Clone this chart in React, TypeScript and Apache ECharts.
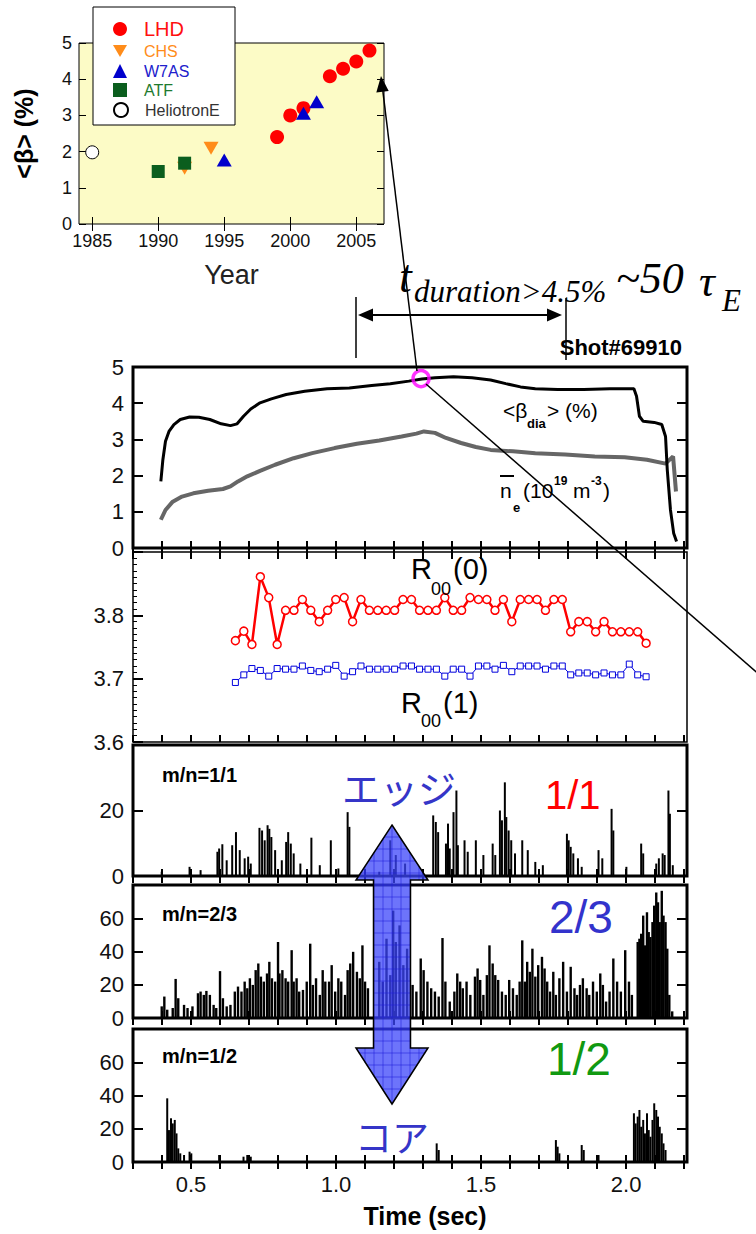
import React, { useEffect, useRef } from "react";
import * as echarts from "echarts";

// ---------------- data ----------------
// inset: <beta> record per device (year, %)
const LHD = [[1999, 2.4], [2000, 3.0], [2001, 3.2], [2003, 4.08], [2004, 4.29], [2005, 4.49], [2006, 4.79]];
const CHS = [[1992, 1.54], [1994, 2.09]];
const W7AS = [[1995, 1.77], [2001, 3.06], [2002, 3.38]];
const ATF = [[1990, 1.45], [1992, 1.68]];
const HELIOTRON_E = [[1985, 1.98]];
const YEAR_TICKS = [1985, 1990, 1995, 2000, 2005];

// panel 1: <beta_dia> (%) and line density
const BETA_T = [0.396, 0.403, 0.412, 0.424, 0.441, 0.463, 0.495, 0.527, 0.565, 0.604, 0.636, 0.659, 0.681, 0.706, 0.738, 0.777, 0.828, 0.892, 0.969, 1.046, 1.123, 1.187, 1.251, 1.296, 1.341, 1.405, 1.469, 1.533, 1.585, 1.636, 1.687, 1.764, 1.854, 1.944, 2.027, 2.036, 2.046, 2.059, 2.097, 2.123, 2.136, 2.142, 2.153, 2.164, 2.174];
const BETA_V = [1.84, 2.44, 2.95, 3.22, 3.41, 3.55, 3.62, 3.61, 3.55, 3.43, 3.38, 3.43, 3.64, 3.84, 4.01, 4.12, 4.24, 4.33, 4.40, 4.42, 4.49, 4.54, 4.61, 4.67, 4.70, 4.73, 4.70, 4.64, 4.54, 4.45, 4.40, 4.38, 4.38, 4.40, 4.40, 4.19, 3.64, 3.50, 3.47, 3.41, 3.08, 2.16, 1.05, 0.41, 0.18];
const NE_T = [0.396, 0.412, 0.437, 0.469, 0.508, 0.559, 0.610, 0.636, 0.662, 0.694, 0.738, 0.790, 0.854, 0.918, 0.995, 1.072, 1.149, 1.226, 1.277, 1.303, 1.341, 1.379, 1.431, 1.482, 1.533, 1.610, 1.687, 1.790, 1.892, 1.995, 2.072, 2.136, 2.162, 2.172];
const NE_V = [0.78, 1.05, 1.28, 1.42, 1.51, 1.58, 1.63, 1.70, 1.84, 1.98, 2.13, 2.30, 2.48, 2.62, 2.76, 2.88, 2.97, 3.08, 3.16, 3.22, 3.18, 3.04, 2.90, 2.79, 2.71, 2.67, 2.62, 2.58, 2.53, 2.51, 2.44, 2.33, 2.53, 1.56];
const MARK_POINT = [[1.293, 4.68]];

// panel 2: R00(0), R00(1)
const R00_T = [0.653, 0.682, 0.710, 0.739, 0.768, 0.797, 0.826, 0.855, 0.884, 0.913, 0.942, 0.971, 0.999, 1.028, 1.057, 1.086, 1.115, 1.144, 1.173, 1.202, 1.231, 1.260, 1.288, 1.317, 1.346, 1.375, 1.404, 1.433, 1.462, 1.491, 1.520, 1.548, 1.577, 1.606, 1.635, 1.664, 1.693, 1.722, 1.751, 1.780, 1.809, 1.837, 1.866, 1.895, 1.924, 1.953, 1.982, 2.011, 2.040, 2.069];
const R00_0 = [3.760, 3.775, 3.754, 3.861, 3.828, 3.754, 3.808, 3.808, 3.825, 3.808, 3.790, 3.808, 3.825, 3.828, 3.790, 3.825, 3.808, 3.808, 3.808, 3.808, 3.825, 3.825, 3.808, 3.808, 3.808, 3.828, 3.808, 3.808, 3.828, 3.825, 3.825, 3.808, 3.825, 3.790, 3.825, 3.825, 3.825, 3.808, 3.825, 3.825, 3.774, 3.790, 3.790, 3.774, 3.790, 3.774, 3.774, 3.774, 3.774, 3.756];
const R00_1 = [3.694, 3.706, 3.716, 3.713, 3.704, 3.716, 3.715, 3.715, 3.720, 3.713, 3.711, 3.715, 3.721, 3.704, 3.711, 3.720, 3.715, 3.715, 3.715, 3.715, 3.720, 3.720, 3.715, 3.715, 3.715, 3.704, 3.715, 3.715, 3.704, 3.720, 3.720, 3.715, 3.721, 3.711, 3.720, 3.720, 3.720, 3.715, 3.720, 3.720, 3.706, 3.709, 3.709, 3.706, 3.709, 3.706, 3.706, 3.723, 3.706, 3.703];

// panels 3-5: mode amplitudes (time, amplitude)
const MODE_11 = [[0.399, 1.3], [0.495, 2.8], [0.533, 1.8], [0.591, 7.4], [0.597, 8.4], [0.608, 9.7], [0.623, 4.8], [0.642, 9.4], [0.655, 13.4], [0.668, 7.9], [0.685, 5.4], [0.697, 5.9], [0.706, 3.8], [0.736, 14.7], [0.745, 13.9], [0.754, 10.9], [0.764, 15.5], [0.770, 14.4], [0.777, 11.9], [0.790, 7.9], [0.813, 4.8], [0.828, 10.4], [0.835, 13.4], [0.844, 9.9], [0.854, 6.9], [0.877, 3.8], [0.915, 11.7], [0.944, 3.3], [0.982, 10.9], [1.008, 2.3], [1.040, 19.5], [1.046, 15.0], [1.149, 1.3], [1.187, 10.9], [1.206, 6.4], [1.238, 3.8], [1.335, 18.5], [1.344, 16.5], [1.352, 13.4], [1.379, 9.9], [1.386, 16.0], [1.392, 8.4], [1.405, 19.5], [1.415, 26.1], [1.420, 9.4], [1.443, 10.9], [1.454, 7.4], [1.482, 10.9], [1.508, 6.4], [1.540, 9.9], [1.549, 6.4], [1.565, 20.0], [1.572, 17.0], [1.582, 28.6], [1.587, 18.0], [1.595, 13.9], [1.604, 10.9], [1.617, 6.9], [1.642, 10.9], [1.661, 7.9], [1.687, 4.3], [1.713, 3.3], [1.796, 12.9], [1.802, 10.9], [1.809, 8.9], [1.818, 6.9], [1.834, 5.4], [1.847, 2.8], [1.905, 7.9], [1.918, 5.4], [1.950, 20.5], [1.956, 13.9], [2.001, 2.8], [2.052, 9.9], [2.059, 6.9], [2.104, 3.8], [2.113, 5.4], [2.126, 6.9], [2.133, 6.4], [2.146, 26.1], [2.151, 19.0], [2.161, 3.3]];
const MODE_23 = [[0.399, 7.0], [0.408, 12.9], [0.418, 5.0], [0.437, 6.0], [0.447, 23.5], [0.456, 11.9], [0.476, 7.9], [0.488, 6.0], [0.505, 7.0], [0.524, 14.9], [0.533, 15.9], [0.544, 13.9], [0.553, 16.3], [0.565, 13.9], [0.578, 7.9], [0.587, 6.0], [0.600, 28.2], [0.610, 11.9], [0.623, 7.0], [0.636, 7.9], [0.651, 15.9], [0.662, 18.9], [0.674, 15.9], [0.685, 21.9], [0.694, 17.9], [0.703, 23.9], [0.713, 19.9], [0.723, 28.8], [0.732, 32.8], [0.741, 24.9], [0.751, 21.9], [0.762, 26.8], [0.770, 33.8], [0.779, 23.9], [0.790, 21.9], [0.800, 45.7], [0.805, 26.8], [0.815, 28.8], [0.826, 23.9], [0.835, 21.9], [0.847, 40.8], [0.854, 21.9], [0.864, 23.9], [0.873, 15.9], [0.886, 16.9], [0.899, 21.9], [0.911, 44.7], [0.920, 19.9], [0.931, 23.9], [0.944, 13.9], [0.954, 28.8], [0.963, 21.9], [0.976, 21.9], [0.985, 31.8], [0.997, 15.9], [1.008, 23.9], [1.018, 21.9], [1.031, 13.9], [1.040, 28.8], [1.049, 32.8], [1.059, 39.8], [1.072, 27.8], [1.082, 23.9], [1.091, 43.7], [1.100, 21.9], [1.110, 17.9], [1.149, 33.8], [1.161, 21.9], [1.174, 47.7], [1.187, 25.8], [1.197, 64.6], [1.206, 45.7], [1.219, 55.7], [1.232, 31.8], [1.245, 41.7], [1.264, 19.9], [1.277, 15.9], [1.292, 35.8], [1.302, 28.8], [1.315, 21.9], [1.328, 17.9], [1.341, 15.9], [1.354, 12.9], [1.367, 48.1], [1.377, 21.9], [1.392, 9.9], [1.408, 15.9], [1.418, 26.8], [1.428, 21.9], [1.437, 17.9], [1.450, 21.9], [1.463, 13.9], [1.479, 24.9], [1.488, 29.8], [1.497, 22.9], [1.508, 13.9], [1.520, 25.8], [1.529, 43.7], [1.540, 32.8], [1.549, 25.8], [1.559, 22.9], [1.572, 15.9], [1.585, 13.9], [1.597, 22.9], [1.610, 17.9], [1.623, 13.9], [1.633, 21.9], [1.642, 46.7], [1.651, 21.9], [1.659, 33.8], [1.668, 27.8], [1.677, 41.7], [1.687, 24.9], [1.697, 31.8], [1.710, 36.8], [1.719, 29.8], [1.728, 21.9], [1.738, 15.9], [1.749, 27.8], [1.758, 13.9], [1.770, 23.9], [1.783, 33.8], [1.796, 15.9], [1.809, 30.8], [1.822, 17.9], [1.831, 13.9], [1.841, 19.9], [1.851, 23.9], [1.864, 17.9], [1.873, 13.9], [1.886, 21.9], [1.899, 15.9], [1.911, 26.8], [1.920, 19.9], [1.931, 9.9], [1.943, 15.9], [1.956, 35.8], [1.969, 21.9], [1.982, 15.9], [1.997, 40.8], [2.010, 21.9], [2.020, 13.9], [2.040, 45.7], [2.046, 47.7], [2.052, 50.7], [2.059, 61.6], [2.065, 43.7], [2.072, 63.6], [2.078, 51.7], [2.084, 48.7], [2.091, 57.7], [2.097, 67.6], [2.104, 75.5], [2.110, 69.6], [2.116, 57.7], [2.123, 76.5], [2.129, 61.6], [2.136, 57.7], [2.142, 41.7], [2.149, 13.9], [2.159, 4.0]];
const MODE_12 = [[0.418, 38.3], [0.424, 19.2], [0.431, 26.3], [0.437, 23.2], [0.444, 25.3], [0.450, 17.2], [0.456, 8.2], [0.463, 5.2], [0.476, 4.2], [0.495, 6.2], [0.501, 5.2], [0.597, 4.2], [0.681, 3.2], [0.694, 4.2], [0.706, 3.2], [1.347, 11.2], [1.354, 7.2], [1.758, 13.2], [1.764, 9.2], [1.770, 5.2], [1.847, 10.2], [1.854, 7.2], [1.905, 4.2], [2.027, 29.3], [2.033, 23.2], [2.040, 27.3], [2.046, 31.3], [2.052, 21.2], [2.059, 25.3], [2.065, 17.2], [2.072, 29.3], [2.078, 19.2], [2.084, 15.2], [2.091, 25.3], [2.097, 35.3], [2.104, 31.3], [2.110, 27.3], [2.116, 21.2], [2.123, 17.2], [2.129, 11.2], [2.136, 7.2]];

const TIME_TICKS = [0.3, 0.4, 0.5, 0.6, 0.7, 0.8, 0.9, 1.0, 1.1, 1.2, 1.3, 1.4, 1.5, 1.6, 1.7, 1.8, 1.9, 2.0, 2.1, 2.2];
const TIME_LABELS = [0.5, 1.0, 1.5, 2.0];

// ---------------- layout / style ----------------
const SANS = '"Liberation Sans", Arial, Helvetica, sans-serif';
const SERIF = '"Liberation Serif", "Times New Roman", serif';
const JP = '"Noto Sans CJK JP", sans-serif';

const GRIDS = [
  { left: 79, top: 43, width: 305, height: 181 },
  { left: 133, top: 367, width: 554, height: 181 },
  { left: 133, top: 552, width: 554, height: 190 },
  { left: 133, top: 745, width: 554, height: 131 },
  { left: 133, top: 885, width: 554, height: 133 },
  { left: 133, top: 1029, width: 554, height: 133 },
];

const PANEL_Y = [
  { min: 0, max: 5, interval: 1, hideAbove: 99, fixed: 0 },
  { min: 3.6, max: 3.9, interval: 0.1, hideAbove: 3.85, fixed: 1 },
  { min: 0, max: 40, interval: 20, hideAbove: 30, fixed: 0 },
  { min: 0, max: 80, interval: 20, hideAbove: 70, fixed: 0 },
  { min: 0, max: 80, interval: 20, hideAbove: 70, fixed: 0 },
];

const zip = (a: number[], b: number[]) => a.map((v, i) => [v, b[i]]);

function buildOption() {
  const xAxis: any[] = [];
  const yAxis: any[] = [];

  // inset axes
  xAxis.push({
    type: "value", gridIndex: 0, min: 1984, max: 2007.1, position: "bottom",
    axisLine: { show: false }, splitLine: { show: false },
    axisTick: { inside: true, length: 7, customValues: YEAR_TICKS, lineStyle: { color: "#000", width: 1 } },
    axisLabel: { customValues: YEAR_TICKS, fontSize: 18, color: "#111", fontFamily: SANS, margin: 8, formatter: (v: number) => String(Math.round(v)) },
    name: "Year", nameLocation: "middle", nameGap: 37,
    nameTextStyle: { fontSize: 27, color: "#222", fontFamily: SANS },
  });
  xAxis.push({
    type: "value", gridIndex: 0, min: 1984, max: 2007.1, position: "top",
    axisLine: { show: false }, splitLine: { show: false },
    axisTick: { inside: true, length: 7, customValues: YEAR_TICKS, lineStyle: { color: "#000", width: 1 } },
    axisLabel: { show: false },
  });
  yAxis.push({
    type: "value", gridIndex: 0, min: 0, max: 5, interval: 1, position: "left",
    axisLine: { show: false }, splitLine: { show: false },
    axisTick: { inside: true, length: 7, lineStyle: { color: "#000", width: 1 } },
    axisLabel: { fontSize: 18, color: "#111", fontFamily: SANS, margin: 7 },
    name: "<β> (%)", nameLocation: "middle", nameGap: 43, nameRotate: 90,
    nameTextStyle: { fontSize: 25, fontWeight: "bold", color: "#000", fontFamily: SANS },
  });
  yAxis.push({
    type: "value", gridIndex: 0, min: 0, max: 5, interval: 1, position: "right",
    axisLine: { show: false }, splitLine: { show: false },
    axisTick: { inside: true, length: 7, lineStyle: { color: "#000", width: 1 } },
    axisLabel: { show: false },
  });

  // panels
  for (let p = 0; p < 5; p++) {
    const g = p + 1;
    const last = p === 4;
    xAxis.push({
      type: "value", gridIndex: g, min: 0.3, max: 2.21, position: "bottom",
      axisLine: { show: false }, splitLine: { show: false },
      axisTick: { inside: true, length: 7, customValues: TIME_TICKS, lineStyle: { color: "#000", width: 2 } },
      axisLabel: last
        ? { customValues: TIME_LABELS, fontSize: 22, color: "#111", fontFamily: SANS, margin: 11, formatter: (v: number) => v.toFixed(1) }
        : { show: false },
    });
    xAxis.push({
      type: "value", gridIndex: g, min: 0.3, max: 2.21, position: "top",
      axisLine: { show: false }, splitLine: { show: false },
      axisTick: { inside: true, length: 7, customValues: TIME_TICKS, lineStyle: { color: "#000", width: 2 } },
      axisLabel: { show: false },
    });
    const py = PANEL_Y[p];
    yAxis.push({
      type: "value", gridIndex: g, min: py.min, max: py.max, interval: py.interval, position: "left",
      axisLine: { show: false }, splitLine: { show: false },
      axisTick: { inside: true, length: 10, lineStyle: { color: "#000", width: 2 } },
      minorTick: p === 1 ? { show: true, splitNumber: 10, length: 4, lineStyle: { color: "#000", width: 1 } } : { show: false },
      axisLabel: {
        fontSize: 22, color: "#111", fontFamily: SANS, margin: 9,
        formatter: (v: number) => (v > py.hideAbove ? "" : v.toFixed(py.fixed)),
      },
    });
    yAxis.push({
      type: "value", gridIndex: g, min: py.min, max: py.max, interval: py.interval, position: "right",
      axisLine: { show: false }, splitLine: { show: false },
      axisTick: { show: p !== 1, inside: true, length: 10, lineStyle: { color: "#000", width: 2 } },
      axisLabel: { show: false },
    });
  }

  const grid = GRIDS.map((r, i) => ({
    ...r,
    show: true,
    borderColor: "#000",
    borderWidth: i === 0 ? 1 : i === 2 ? 1.5 : 3,
    backgroundColor: i === 0 ? "#FCFBC6" : "transparent",
  }));

  const downTri = "path://M0,0L10,0L5,8.66Z";
  const series: any[] = [
    { name: "LHD", type: "scatter", xAxisIndex: 0, yAxisIndex: 0, data: LHD, symbol: "circle", symbolSize: 14, itemStyle: { color: "#FF0000", opacity: 1 } },
    { name: "CHS", type: "scatter", xAxisIndex: 0, yAxisIndex: 0, data: CHS, symbol: downTri, symbolSize: [15, 13], itemStyle: { color: "#FF8C1A", opacity: 1 } },
    { name: "W7AS", type: "scatter", xAxisIndex: 0, yAxisIndex: 0, data: W7AS, symbol: "triangle", symbolSize: [15, 13], itemStyle: { color: "#0000CC", opacity: 1 } },
    { name: "ATF", type: "scatter", xAxisIndex: 0, yAxisIndex: 0, data: ATF, symbol: "rect", symbolSize: 13, itemStyle: { color: "#0B5E1E", opacity: 1 } },
    { name: "HeliotronE", type: "scatter", xAxisIndex: 0, yAxisIndex: 0, data: HELIOTRON_E, symbol: "circle", symbolSize: 13, itemStyle: { color: "#fff", borderColor: "#000", borderWidth: 1, opacity: 1 } },

    { type: "line", xAxisIndex: 2, yAxisIndex: 2, data: zip(NE_T, NE_V), showSymbol: false, lineStyle: { color: "#666", width: 4 } },
    { type: "line", xAxisIndex: 2, yAxisIndex: 2, data: zip(BETA_T, BETA_V), showSymbol: false, lineStyle: { color: "#000", width: 3 } },
    { type: "scatter", xAxisIndex: 2, yAxisIndex: 2, data: MARK_POINT, symbol: "circle", symbolSize: 16, z: 10, itemStyle: { color: "rgba(0,0,0,0)", borderColor: "#FF00FF", borderWidth: 3.5 } },

    { type: "line", xAxisIndex: 4, yAxisIndex: 4, data: zip(R00_T, R00_1), symbol: "rect", symbolSize: 6, showSymbol: true, lineStyle: { color: "#0000DD", width: 1 }, itemStyle: { color: "#fff", borderColor: "#0000DD", borderWidth: 1 } },
    { type: "line", xAxisIndex: 4, yAxisIndex: 4, data: zip(R00_T, R00_0), symbol: "circle", symbolSize: 8, showSymbol: true, lineStyle: { color: "#FF0000", width: 2.5 }, itemStyle: { color: "#fff", borderColor: "#FF0000", borderWidth: 1.5 } },

    { type: "bar", xAxisIndex: 6, yAxisIndex: 6, data: MODE_11, barWidth: 2, itemStyle: { color: "#000" } },
    { type: "bar", xAxisIndex: 8, yAxisIndex: 8, data: MODE_23, barWidth: 2.4, itemStyle: { color: "#000" } },
    { type: "bar", xAxisIndex: 10, yAxisIndex: 10, data: MODE_12, barWidth: 2, itemStyle: { color: "#000" } },
  ];

  const legendItems = [
    { name: "LHD", color: "#FF1010", fs: 20, top: 19 },
    { name: "CHS", color: "#FF8C1A", fs: 16, top: 43 },
    { name: "W7AS", color: "#2020CC", fs: 16, top: 63 },
    { name: "ATF", color: "#1E7A2E", fs: 16, top: 82 },
    { name: "HeliotronE", color: "#333", fs: 16, top: 102 },
  ];
  const legend = legendItems.map((l) => ({
    data: [{ name: l.name }],
    left: 113, top: l.top, orient: "vertical", padding: 0,
    itemWidth: 14, itemHeight: 14, selectedMode: false, z: 6,
    textStyle: { color: l.color, fontSize: l.fs, fontFamily: SANS, padding: [0, 0, 0, 12] },
  }));

  // -------- graphic annotations --------
  const T = (x: number, y: number, text: string, o: any = {}) => ({
    type: "text", x, y, z: 60,
    style: {
      text, fill: o.fill || "#000", fontSize: o.fs || 20, fontFamily: o.ff || SANS,
      fontWeight: o.fw || "normal", fontStyle: o.fst || "normal",
      align: o.align || "left", verticalAlign: "middle",
    },
  });

  // double arrow ("edge" <-> "core")
  const cx = 392, headTop = 825, headTopBase = 880, headBotBase = 1048, headBot = 1104, hw = 36, sw = 18.5;
  const arrowPts = [
    [cx, headTop], [cx + hw, headTopBase], [cx + sw, headTopBase], [cx + sw, headBotBase], [cx + hw, headBotBase],
    [cx, headBot], [cx - hw, headBotBase], [cx - sw, headBotBase], [cx - sw, headTopBase], [cx - hw, headTopBase],
  ];
  const slope = (headTopBase - headTop) / hw;
  const halfAt = (y: number) => {
    if (y < headTopBase) return (y - headTop) / slope;
    if (y > headBotBase) return (headBot - y) / slope;
    return sw;
  };
  const hatchStyle = { stroke: "rgba(30,30,220,0.55)", lineWidth: 1 };
  const hatch: any[] = [];
  for (let d = -27; d <= 27; d += 9) {
    const ad = Math.abs(d);
    const y1 = headTop + ad * slope;
    const y2 = headBot - ad * slope;
    if (ad > sw) {
      hatch.push({ type: "line", z: 56, shape: { x1: cx + d, y1, x2: cx + d, y2: headTopBase }, style: hatchStyle });
      hatch.push({ type: "line", z: 56, shape: { x1: cx + d, y1: headBotBase, x2: cx + d, y2 }, style: hatchStyle });
    } else {
      hatch.push({ type: "line", z: 56, shape: { x1: cx + d, y1, x2: cx + d, y2 }, style: hatchStyle });
    }
  }
  for (let y = headTop + 12; y < headBot - 4; y += 12) {
    const h = halfAt(y);
    hatch.push({ type: "line", z: 56, shape: { x1: cx - h, y1: y, x2: cx + h, y2: y }, style: hatchStyle });
  }

  const graphic: any[] = [
    { type: "rect", z: 3, shape: { x: 93, y: 7, width: 142, height: 118 }, style: { fill: "#fff", stroke: "#000", lineWidth: 1 } },

    // connection lines
    { type: "line", z: 60, shape: { x1: 417, y1: 371, x2: 382.6, y2: 89 }, style: { stroke: "#000", lineWidth: 1.5 } },
    { type: "polygon", z: 60, shape: { points: [[381, 76], [388.7, 91], [376.3, 92.5]] }, style: { fill: "#000" } },
    { type: "line", z: 60, shape: { x1: 426, y1: 384, x2: 770, y2: 684 }, style: { stroke: "#000", lineWidth: 1.5 } },

    // duration marker
    { type: "line", z: 60, shape: { x1: 370, y1: 315, x2: 550, y2: 315 }, style: { stroke: "#000", lineWidth: 2 } },
    { type: "polygon", z: 60, shape: { points: [[358, 315], [373, 308.5], [373, 321.5]] }, style: { fill: "#000" } },
    { type: "polygon", z: 60, shape: { points: [[562, 315], [547, 308.5], [547, 321.5]] }, style: { fill: "#000" } },
    { type: "line", z: 60, shape: { x1: 356, y1: 297, x2: 356, y2: 358 }, style: { stroke: "#000", lineWidth: 1.5 } },
    { type: "line", z: 60, shape: { x1: 566, y1: 298, x2: 566, y2: 360 }, style: { stroke: "#000", lineWidth: 1.5 } },

    T(399, 276, "t", { ff: SERIF, fst: "italic", fs: 46 }),
    T(414, 291, "duration>4.5%", { ff: SERIF, fst: "italic", fs: 31 }),
    T(616, 278.5, "~50", { ff: SERIF, fst: "italic", fs: 44 }),
    T(699, 281, "τ", { ff: SERIF, fst: "italic", fs: 44 }),
    T(722, 300, "E", { ff: SERIF, fst: "italic", fs: 31 }),
    T(682, 347, "Shot#69910", { fw: "bold", fs: 22, align: "right" }),

    // panel 1 labels
    T(503, 410, "<β", { fs: 21 }),
    T(527, 423, "dia", { fs: 13, fw: "bold" }),
    T(547, 410, "> (%)", { fs: 21 }),
    { type: "line", z: 60, shape: { x1: 500, y1: 476, x2: 514, y2: 476 }, style: { stroke: "#000", lineWidth: 2 } },
    T(500, 490, "n", { fs: 21 }),
    T(513, 507, "e", { fs: 13, fw: "bold" }),
    T(523, 490, "(10", { fs: 21 }),
    T(554, 481, "19", { fs: 12, fw: "bold" }),
    T(573, 490, "m", { fs: 21 }),
    T(591, 481, "-3", { fs: 12, fw: "bold" }),
    T(603, 490, ")", { fs: 21 }),

    // panel 2 labels
    T(411, 569, "R", { fs: 29 }),
    T(431, 589, "00", { fs: 18 }),
    T(453, 569, "(0)", { fs: 29 }),
    T(401, 703, "R", { fs: 29 }),
    T(421, 721, "00", { fs: 18 }),
    T(443, 703, "(1)", { fs: 29 }),

    // mode labels
    T(162, 775, "m/n=1/1", { fw: "bold", fs: 20 }),
    T(162, 914, "m/n=2/3", { fw: "bold", fs: 20 }),
    T(162, 1056, "m/n=1/2", { fw: "bold", fs: 20 }),
    T(545, 795, "1/1", { fs: 40, fill: "#FF0000" }),
    T(549, 917, "2/3", { fs: 46, fill: "#3333CC" }),
    T(547, 1059, "1/2", { fs: 46, fill: "#119911" }),

    // x-axis title
    T(425, 1216, "Time (sec)", { fw: "bold", fs: 25, align: "center" }),

    // edge / core arrow
    { type: "polygon", z: 55, shape: { points: arrowPts }, style: { fill: "rgba(60,70,250,0.75)", stroke: "none" } },
    ...hatch,
    { type: "polygon", z: 57, shape: { points: arrowPts }, style: { fill: "none", stroke: "#000", lineWidth: 1.5 } },
    T(342, 786, "エッジ", { ff: JP, fs: 38, fill: "#3535C8" }),
    T(355, 1136, "コア", { ff: JP, fs: 37, fill: "#3535C8" }),
  ];

  return {
    animation: false,
    backgroundColor: "#fff",
    grid, xAxis, yAxis, series, legend, graphic,
  };
}

export default function App() {
  const ref = useRef<HTMLDivElement>(null);
  useEffect(() => {
    if (!ref.current) return;
    const chart = echarts.init(ref.current, undefined, { renderer: "svg" });
    chart.setOption(buildOption() as any);
    return () => chart.dispose();
  }, []);
  return <div ref={ref} style={{ position: "absolute", left: 0, top: 0, width: 756, height: 1234 }} />;
}
